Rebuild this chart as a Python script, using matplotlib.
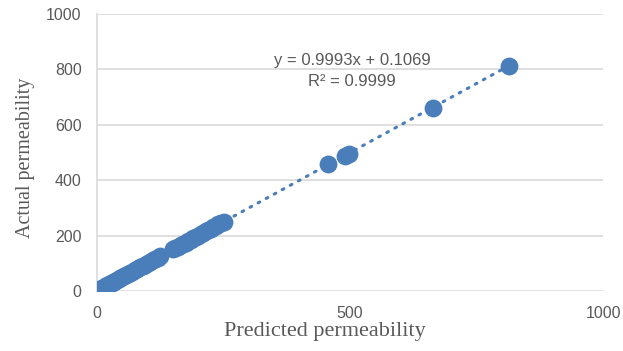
import numpy as np
import matplotlib.pyplot as plt

# predicted vs actual permeability
predicted = [0.5, 1, 2, 3, 4, 5, 6, 8, 10, 12, 14, 16, 18, 20, 22, 25, 28, 30, 33, 36,
             40, 43, 46, 50, 54, 58, 62, 66, 70, 75, 80, 85, 90, 95, 100, 105, 110, 115, 120, 125,
             150, 155, 160, 165, 170, 175, 180, 185, 190, 195, 200, 205, 210, 215, 220, 225,
             230, 235, 240, 245, 250, 456, 490, 497, 663, 815]
actual = [0.6, 1.2, 2.1, 2.8, 4.2, 5.1, 5.8, 8.3, 9.8, 12.2, 13.9, 16.1, 18.2, 19.8, 22.3, 24.9,
          28.2, 29.8, 33.1, 35.9, 40.2, 42.8, 46.1, 49.9, 54.2, 57.8, 62.1, 65.9, 70.2, 74.8,
          80.1, 84.9, 90.2, 94.8, 100.1, 104.9, 110.2, 114.8, 120.1, 124.9, 150.2, 154.8, 160.1,
          164.9, 170.2, 174.8, 180.1, 184.9, 190.2, 194.8, 200.1, 204.9, 210.2, 214.8, 220.1,
          224.9, 230.2, 234.8, 240.1, 244.9, 250.2, 457, 489, 496, 662, 814]
x_ticks = [0, 500, 1000]
y_ticks = [0, 200, 400, 600, 800, 1000]
equation = "y = 0.9993x + 0.1069"
r_squared = "R² = 0.9999"

blue = "#4a7ebb"
grey = "#595959"

fig = plt.figure(figsize=(6.23, 3.51), dpi=100)
ax = fig.add_axes([0.1557, 0.171, 0.8123, 0.789])

ax.scatter(predicted, actual, s=165, color=blue, zorder=3, linewidths=0)

slope, intercept = np.polyfit(predicted, actual, 1)
xs = np.array([min(predicted), max(predicted)])
ax.plot(xs, slope * xs + intercept, color=blue, linewidth=2.2,
        linestyle=(0, (0.6, 2.4)), dash_capstyle="round", zorder=2)

# equation box, placed in axes fraction
ax.text(0.504, 0.834, equation, ha="center", va="center", fontsize=12,
        color=grey, family="Liberation Sans", transform=ax.transAxes)
ax.text(0.504, 0.755, r_squared, ha="center", va="center", fontsize=12,
        color=grey, family="Liberation Sans", transform=ax.transAxes)

ax.set_xlim(0, 1000)
ax.set_ylim(0, 1000)
ax.set_xticks(x_ticks)
ax.set_yticks(y_ticks)
ax.tick_params(length=0, labelsize=11.5, labelcolor=grey, pad=11)
for lab in ax.get_xticklabels() + ax.get_yticklabels():
    lab.set_family("Liberation Sans")
ax.yaxis.grid(True, color="#d9d9d9", linewidth=1.2)
ax.set_axisbelow(True)
for side in ["top", "right", "bottom"]:
    ax.spines[side].set_visible(False)
ax.spines["left"].set_color("#d9d9d9")
ax.spines["left"].set_linewidth(1.2)

ax.set_xlabel("Predicted permeability", family="Liberation Serif", fontsize=16,
              color=grey)
ax.xaxis.set_label_coords(0.45, -0.112)
ax.set_ylabel("Actual permeability", family="Liberation Serif", fontsize=14.5,
              color=grey)
ax.yaxis.set_label_coords(-0.122, 0.48)

fig.savefig("out.png", dpi=100)
